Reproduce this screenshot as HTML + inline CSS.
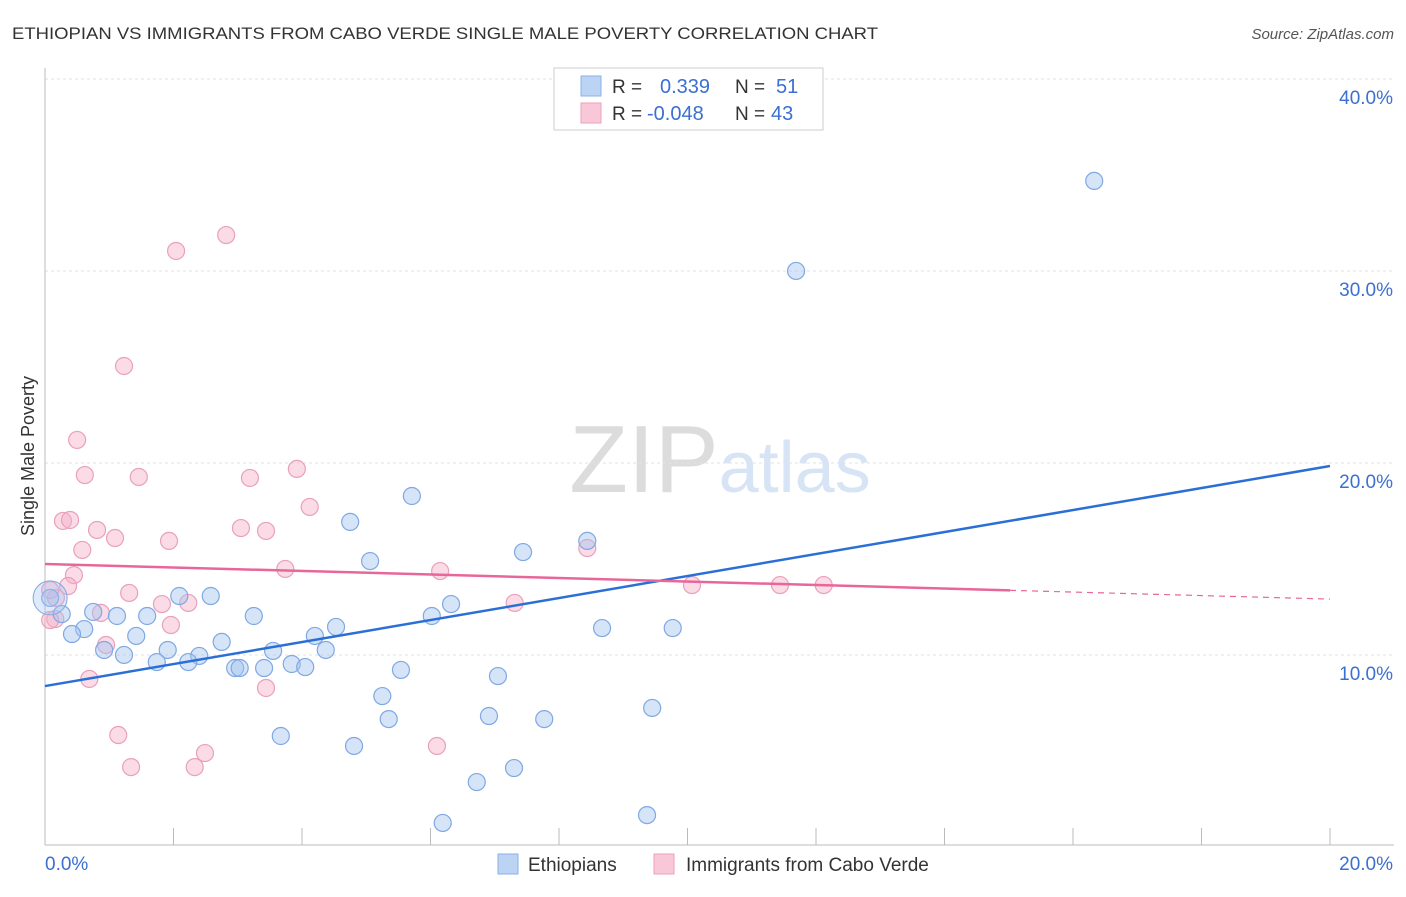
<!DOCTYPE html>
<html><head><meta charset="utf-8"><style>
body{margin:0;background:#fff;font-family:"Liberation Sans",sans-serif}
svg text{font-family:"Liberation Sans",sans-serif}
</style></head><body>
<svg id="chart" width="1406" height="892">
<text x="12" y="39" font-size="17" fill="#333" textLength="866" lengthAdjust="spacingAndGlyphs">ETHIOPIAN VS IMMIGRANTS FROM CABO VERDE SINGLE MALE POVERTY CORRELATION CHART</text>
<text x="1394" y="39" font-size="15" fill="#555" text-anchor="end" font-style="italic">Source: ZipAtlas.com</text>
<text x="720" y="492" font-size="96" fill="#e4e4e4" text-anchor="middle" font-family="Liberation Serif"><tspan fill="#dcdcdc">ZIP</tspan><tspan fill="#d6e4f5" font-family="Liberation Sans" font-size="72">atlas</tspan></text>
<g id="grid"></g><g id="axes"></g><g id="pts"></g><g id="lines"></g>
<text x="34" y="456" font-size="18" fill="#333" text-anchor="middle" transform="rotate(-90 34 456)">Single Male Poverty</text>
<g>
<rect x="554" y="68" width="269" height="62" fill="#fff" stroke="#ccc"/>
<rect x="581" y="76" width="20" height="20" fill="#bcd4f4" stroke="#8ab0e8"/>
<rect x="581" y="103" width="20" height="20" fill="#f8c8d8" stroke="#eaa0bd"/>
<text x="612" y="93" font-size="19" fill="#333">R =</text><text x="660" y="93" font-size="20" fill="#3b6fd0">0.339</text>
<text x="735" y="93" font-size="19" fill="#333">N =</text><text x="776" y="93" font-size="20" fill="#3b6fd0">51</text>
<text x="612" y="120" font-size="19" fill="#333">R =</text><text x="647" y="120" font-size="20" fill="#3b6fd0">-0.048</text>
<text x="735" y="120" font-size="19" fill="#333">N =</text><text x="771" y="120" font-size="20" fill="#3b6fd0">43</text>
</g>
<g>
<rect x="498" y="854" width="20" height="20" fill="#bcd4f4" stroke="#8ab0e8"/>
<text x="528" y="871" font-size="19" fill="#333">Ethiopians</text>
<rect x="654" y="854" width="20" height="20" fill="#f8c8d8" stroke="#eaa0bd"/>
<text x="686" y="871" font-size="19" fill="#333">Immigrants from Cabo Verde</text>
</g>
</svg>
<script>
const yTicks=[10,20,30,40];
const xTickLabels=["0.0%","20.0%"];
const blueX=[16.33,11.69,5.71,4.75,8.44,7.44,5.06,2.09,2.58,6.32,6.02,0.75,1.12,1.59,3.25,0.26,0.61,0.42,4.53,8.67,9.77,1.42,4.20,2.75,0.92,1.23,1.91,3.55,4.37,2.40,1.74,2.23,2.96,3.03,3.41,3.84,4.05,5.54,7.05,5.25,9.45,5.35,6.91,7.77,3.67,4.81,7.30,6.72,6.19,9.37,0.08];
const blueY=[34.64,29.95,18.23,16.88,15.89,15.31,14.84,13.02,13.02,12.60,11.98,12.19,11.98,11.98,11.98,12.08,11.30,11.04,11.41,11.35,11.35,10.94,10.94,10.63,10.21,9.95,10.21,10.16,10.21,9.90,9.58,9.58,9.27,9.27,9.27,9.48,9.32,9.17,8.85,7.81,7.19,6.61,6.77,6.61,5.73,5.21,4.06,3.33,1.20,1.61,12.92];
const pinkX=[2.82,2.04,1.23,0.50,0.62,1.46,3.19,3.92,4.12,0.28,0.39,0.81,3.05,3.44,1.09,1.93,0.58,8.44,0.45,3.74,6.15,0.36,10.07,11.44,12.12,1.31,0.17,0.08,1.82,2.23,7.31,0.87,0.16,1.96,0.95,0.69,3.44,1.14,2.49,6.10,1.34,2.33,0.08];
const pinkY=[31.82,30.99,25.0,21.15,19.32,19.22,19.17,19.64,17.66,16.93,16.98,16.46,16.56,16.41,16.04,15.89,15.42,15.52,14.11,14.43,14.32,13.54,13.59,13.59,13.59,13.18,12.92,13.33,12.60,12.66,12.66,12.14,11.82,11.51,10.47,8.70,8.23,5.78,4.84,5.21,4.11,4.11,11.77];
const blueTrend=[8.33,19.79];
const pinkTrend=[14.69,12.86];
const pinkSolidEnd=15.02;
const X=v=>45+v/20*1285, Y=v=>846-v*19.2;
const NS="http://www.w3.org/2000/svg";
function mk(tag,attrs,parent){const e=document.createElementNS(NS,tag);for(const k in attrs)e.setAttribute(k,attrs[k]);document.getElementById(parent).appendChild(e);return e;}
yTicks.forEach(t=>{
 const l=mk('line',{x1:45,x2:1394,y1:Y(t)+1,y2:Y(t)+1,stroke:'#e2e2e2','stroke-dasharray':'3 3'},'grid');
 
 
 const tx=mk('text',{x:1393,y:Y(t)+26,'font-size':19,fill:'#3b6fd0','text-anchor':'end'},'grid');
 tx.textContent=t.toFixed(1)+'%';
 
 
});
const ax=mk('line',{x1:45,x2:45,y1:68,y2:845,stroke:'#bbb'},'axes');


const bx=mk('line',{x1:45,x2:1394,y1:845,y2:845,stroke:'#bbb'},'axes');


for(let i=0;i<=10;i++){const t=mk('line',{x1:X(i*2),x2:X(i*2),y1:828,y2:845,stroke:'#bbb'},'axes');
 
 }
[[xTickLabels[0],45,'start'],[xTickLabels[1],1393,'end']].forEach(([s,x,a])=>{const t=mk('text',{x:x,y:870,'font-size':19,fill:'#3b6fd0','text-anchor':a},'axes');t.textContent=s;
 
 });
function pts(xs,ys,fill,stroke,name){xs.forEach((x,i)=>{const c=mk('circle',{cx:X(x),cy:Y(ys[i]),r:8.5,fill:fill,stroke:stroke,'stroke-width':1.2},'pts');
 
 });}
pts(pinkX,pinkY,'rgba(244,176,200,0.45)','#eaa0bd','cabo-verde-point');
pts(blueX,blueY,'rgba(164,196,240,0.45)','#7fa8e4','ethiopian-point');
const big=mk('circle',{cx:X(0.08),cy:Y(12.92),r:17,fill:'rgba(164,196,240,0.35)',stroke:'#7fa8e4'},'pts');


const bl=mk('line',{x1:X(0),y1:Y(blueTrend[0]),x2:X(20),y2:Y(blueTrend[1]),stroke:'#2a6fd6','stroke-width':2.5},'lines');


const pAt=x=>pinkTrend[0]+(pinkTrend[1]-pinkTrend[0])*x/20;
const pl=mk('line',{x1:X(0),y1:Y(pinkTrend[0]),x2:X(pinkSolidEnd),y2:Y(pAt(pinkSolidEnd)),stroke:'#e8679a','stroke-width':2.5},'lines');


const pd=mk('line',{x1:X(pinkSolidEnd),y1:Y(pAt(pinkSolidEnd)),x2:X(20),y2:Y(pinkTrend[1]),stroke:'#e8679a','stroke-width':1.2,'stroke-dasharray':'6 5'},'lines');


</script>
</body></html>
